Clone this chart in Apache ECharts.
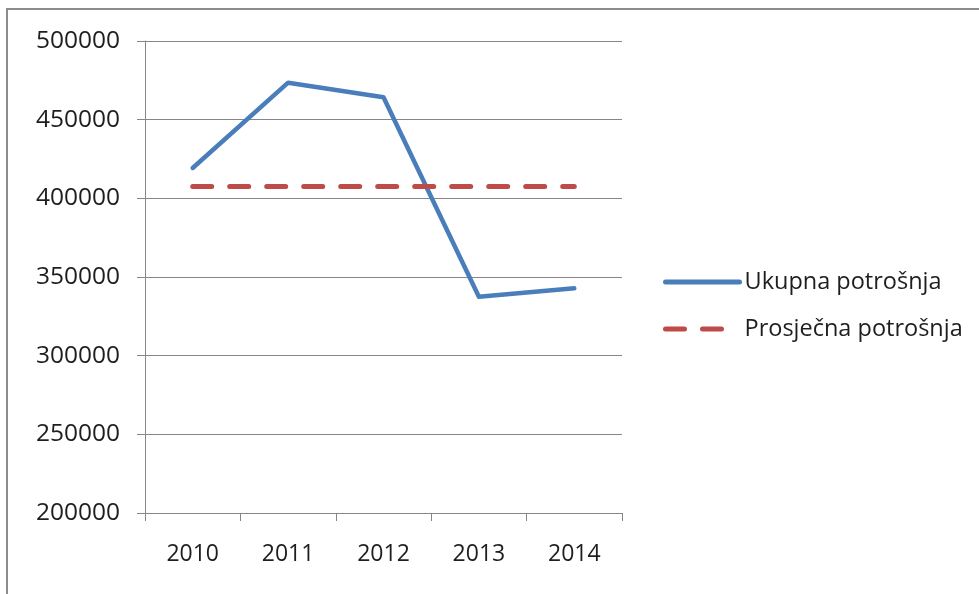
<!DOCTYPE html>
<html><head><meta charset="utf-8">
<script src="https://cdn.jsdelivr.net/npm/echarts@6/dist/echarts.min.js"></script>
<style>html,body{margin:0;padding:0;background:#fff}#c{width:979px;height:594px}</style>
</head><body><div id="c"></div>
<script>
const categories = ['2010', '2011', '2012', '2013', '2014'];
const ukupna = [419300, 473500, 464200, 337500, 342800];
const prosjecna = [407500, 407500, 407500, 407500, 407500];
const seriesNames = ['Ukupna potrošnja', 'Prosječna potrošnja'];
const yMin = 200000, yMax = 500000, yStep = 50000;

const font = '"Open Sans", sans-serif';
const chart = echarts.init(document.getElementById('c'), null, {renderer: 'canvas'});
chart.setOption({
  animation: false,
  backgroundColor: '#fff',
  graphic: [{
    type: 'rect', shape: {x: 7, y: 9, width: 1100, height: 1100},
    style: {fill: 'none', stroke: '#8c8c8c', lineWidth: 2}, silent: true
  }],
  grid: {left: 145, right: 357, top: 41, bottom: 81},
  legend: {
    orient: 'vertical', left: 658, top: 265, itemGap: 23,
    itemWidth: 74, itemHeight: 30,
    itemStyle: {opacity: 0},
    lineStyle: {width: 5},
    textStyle: {fontFamily: font, fontSize: 23.5, color: '#1e1e1e'},
    data: seriesNames
  },
  xAxis: {
    type: 'category', data: categories, boundaryGap: true,
    axisLine: {lineStyle: {color: '#868686', width: 1}},
    axisTick: {show: true, alignWithLabel: false, length: 8, lineStyle: {color: '#868686'}},
    axisLabel: {fontFamily: font, fontSize: 23, color: '#1e1e1e', margin: 30}
  },
  yAxis: {
    type: 'value', min: yMin, max: yMax, interval: yStep,
    axisLine: {show: true, lineStyle: {color: '#868686', width: 1}},
    axisTick: {show: true, length: 8, lineStyle: {color: '#868686'}},
    splitLine: {lineStyle: {color: '#868686', width: 1}},
    axisLabel: {fontFamily: font, fontSize: 24.5, color: '#1e1e1e', margin: 25, formatter: v => String(v)}
  },
  series: [{
    name: seriesNames[0], type: 'line', data: ukupna, symbol: 'none',
    lineStyle: {color: '#4A7EBB', width: 4.5, cap: 'round', join: 'round'},
    itemStyle: {color: '#4A7EBB'}
  }, {
    name: seriesNames[1], type: 'line', data: prosjecna, symbol: 'none',
    lineStyle: {color: '#BE4B48', width: 5, type: [19, 18], cap: 'round'},
    itemStyle: {color: '#BE4B48'}
  }]
});
</script></body></html>
